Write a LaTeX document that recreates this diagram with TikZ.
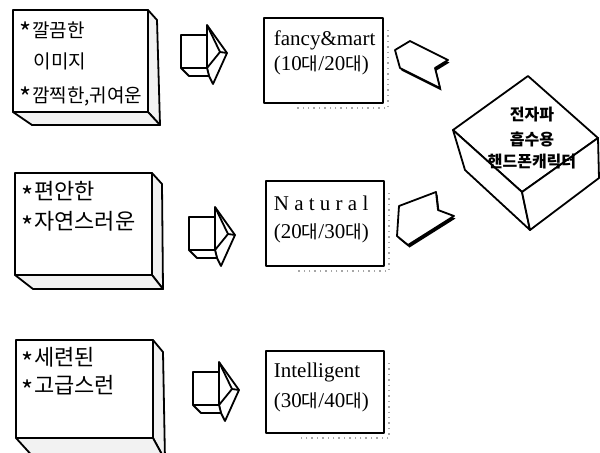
\documentclass[tikz,border=0pt]{standalone}
\usepackage{fontspec}
\setmainfont{Liberation Serif}
\newfontfamily\kor{Noto Sans CJK KR}
\newcommand\bul{\raisebox{-0.3em}{\fontsize{13}{13}\selectfont *}}
\usepackage{tikz}
\usetikzlibrary{positioning}

\begin{document}
\begin{tikzpicture}[x=0.5pt,y=-0.5pt,line width=0.9pt,line join=round,
    face/.style={draw,fill=white},
    side/.style={draw,fill=black!5},
    shade/.style={draw=black!35,dotted,line width=0.7pt},
    tag/.style={anchor=west,inner sep=0pt,font=\kor\fontsize{11}{11}\selectfont},
    label/.style={anchor=west,inner sep=0pt,font=\fontsize{10.5}{10.5}\selectfont},
    cubetext/.style={inner sep=0pt,font=\kor\bfseries\fontsize{8}{8}\selectfont}]
\clip (0,0) rectangle (600,452);

% left boxes
\draw[side] (148,10) -- (157,20) -- (160,125) -- (148,112) -- cycle;
\draw[side] (13,112) -- (148,112) -- (160,125) -- (32,125) -- cycle;
\draw[face] (13,10) rectangle (148,112);
\node[tag,font=\kor\fontsize{9.5}{9.5}\selectfont] (look1) at (19,32) {\bul 깔끔한};
\node[tag,font=\kor\fontsize{9.5}{9.5}\selectfont] (look2) at (33,61) {이미지};
\node[tag,font=\kor\fontsize{9.5}{9.5}\selectfont] (look3) at (19,97) {\bul 깜찍한,귀여운};

\draw[side] (152,173) -- (162,184) -- (163,289) -- (152,275) -- cycle;
\draw[side] (15,275) -- (152,275) -- (163,289) -- (33,289) -- cycle;
\draw[face] (15,173) rectangle (152,275);
\node[tag] (easy1) at (21,194) {\bul 편안한};
\node[tag] (easy2) at (21,224) {\bul 자연스러운};

\draw[side] (153,340) -- (163,352) -- (165,460) -- (153,438) -- cycle;
\draw[side] (16,438) -- (153,438) -- (165,460) -- (36,460) -- cycle;
\draw[face] (16,340) rectangle (153,438);
\node[tag] (chic1) at (21,360) {\bul 세련된};
\node[tag] (chic2) at (21,388) {\bul 고급스런};

% right arrows
\foreach \ax/\ay in {181/35, 189/217, 193/372}{
  \begin{scope}[shift={(\ax,\ay)}]
  \draw[face] (26,-10) -- (46,18) -- (32,49) -- (28,41) -- (26,33) -- cycle;
  \draw[face] (0,33) -- (8,41) -- (28,41) -- (26,33) -- cycle;
  \draw[face] (0,0) rectangle (26,33);
  \draw (26,-10) -- (39,17) -- (26,33);
  \draw (39,17) -- (46,18);
  \end{scope}
}

% middle boxes
\draw[shade] (388,30) -- (388,108) -- (295,108);
\draw[face] (264,18) rectangle (383,103);
\node[label] (fancy) at (273,40) {fancy\&mart};
\node[label] (age1) at (273,65) {(10{\kor\fontsize{9}{9}\selectfont 대}/20{\kor\fontsize{9}{9}\selectfont 대})};

\draw[shade] (389,193) -- (389,271) -- (297,271);
\draw[face] (266,181) rectangle (384,266);
\node[label] (natural) at (273,203) {N a t u r a l};
\node[label] (age2) at (273,233) {(20{\kor\fontsize{9}{9}\selectfont 대}/30{\kor\fontsize{9}{9}\selectfont 대})};

\draw[shade] (389,363) -- (389,438) -- (297,438);
\draw[face] (266,351) rectangle (384,433);
\node[label] (smart) at (273,372) {Intelligent};
\node[label] (age3) at (273,402) {(30{\kor\fontsize{9}{9}\selectfont 대}/40{\kor\fontsize{9}{9}\selectfont 대})};

% left arrows
\fill[shift={(1.5,2.5)}] (410,41) -- (448,60) -- (435,68) -- (440,88) -- (400,68) -- (395,50) -- cycle;
\draw[face] (410,41) -- (448,60) -- (435,68) -- (440,88) -- (400,68) -- (395,50) -- cycle;
\fill[shift={(1.5,2.5)}] (399,206) -- (436,192) -- (438,210) -- (454,216) -- (408,245) -- (397,236) -- cycle;
\draw[face] (399,206) -- (436,192) -- (438,210) -- (454,216) -- (408,245) -- (397,236) -- cycle;

% cube
\draw[face] (528,76) -- (453,130) -- (522,192) -- (598,138) -- cycle;
\draw[face] (453,130) -- (465,170) -- (530,230) -- (522,192) -- cycle;
\draw[face] (522,192) -- (530,230) -- (599,178) -- (598,138) -- cycle;
\node[cubetext] (wave) at (532,115) {전자파};
\node[cubetext] (absorb) at (532,139) {흡수용};
\node[cubetext] (phone) at (532,162) {핸드폰캐릭터};
\end{tikzpicture}
\end{document}
